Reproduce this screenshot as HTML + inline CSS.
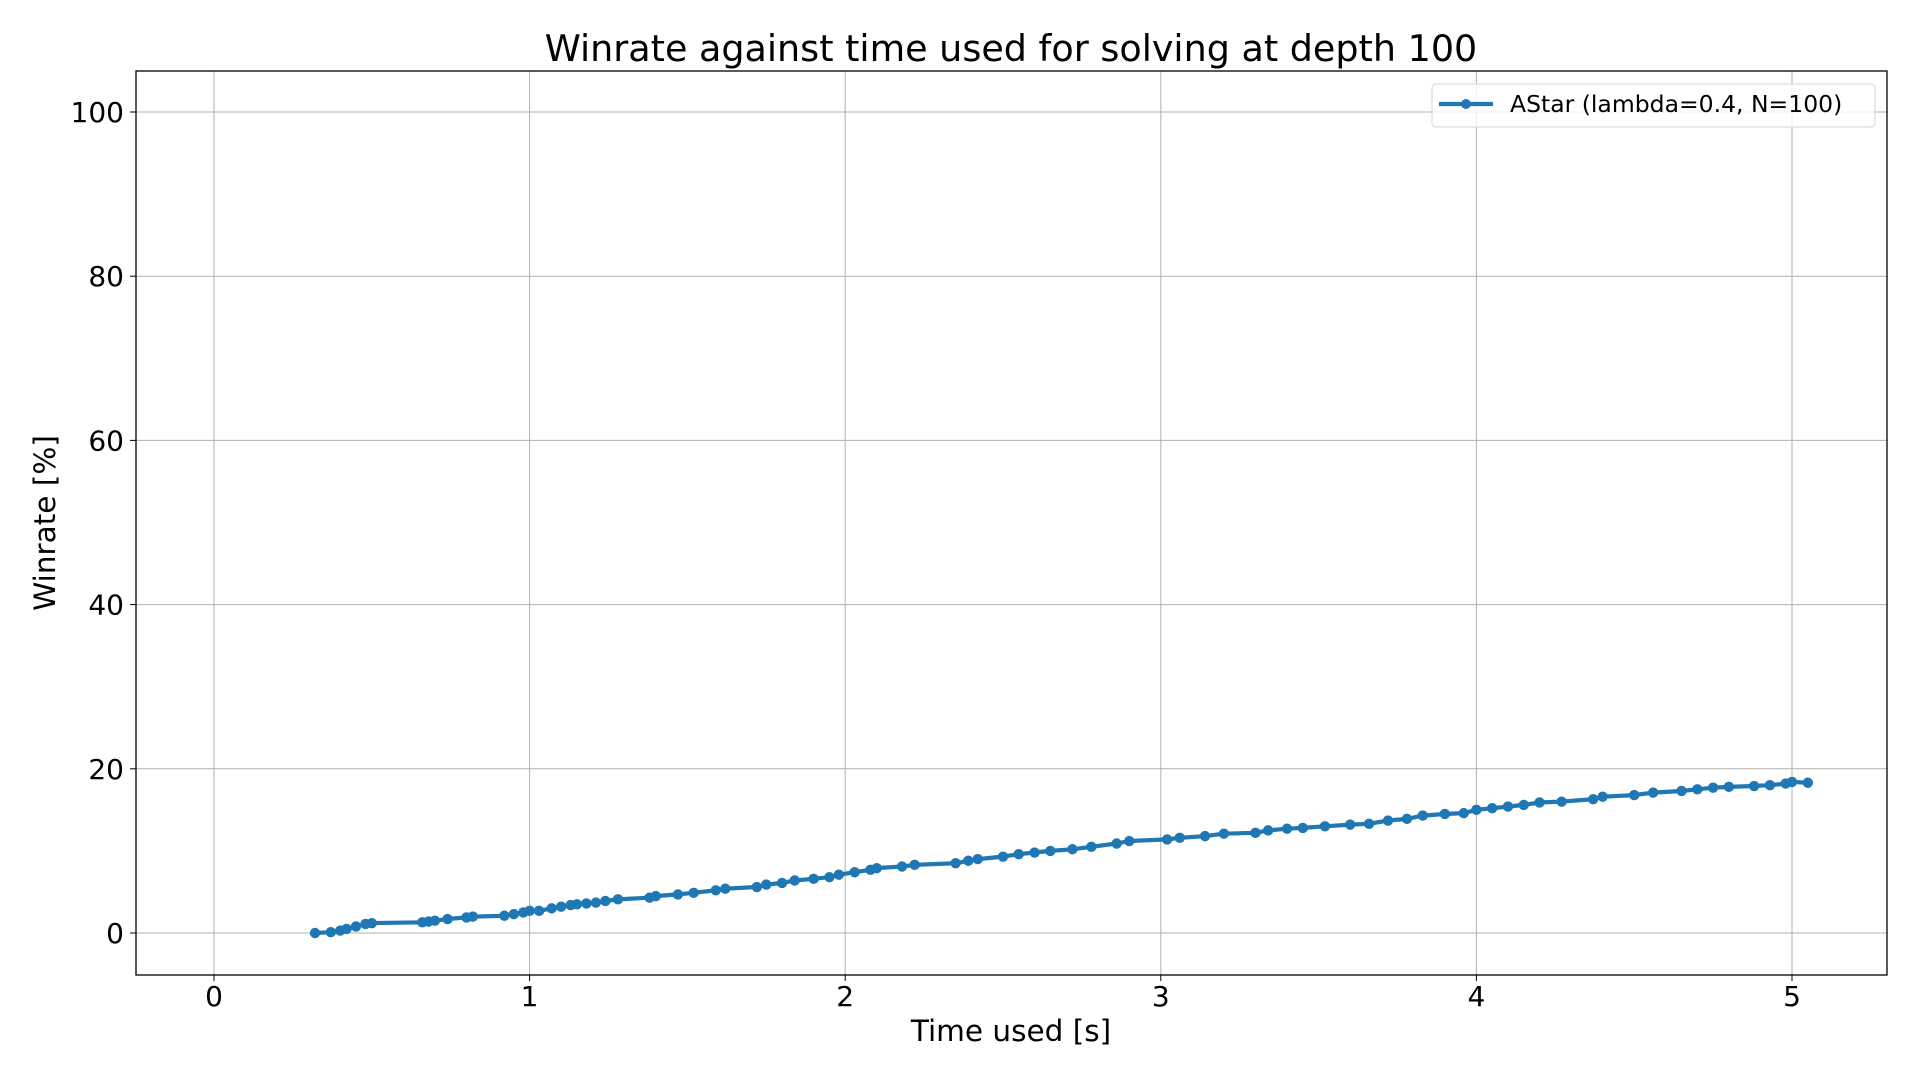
<!DOCTYPE html>
<html><head><meta charset="utf-8"><style>
html,body{margin:0;padding:0;background:#fff;}
svg{display:block;font-family:"DejaVu Sans","Liberation Sans",sans-serif;}
</style></head><body>
<svg id="chart" width="1920" height="1080" viewBox="0 0 1920 1080">
<rect x="0" y="0" width="1920" height="1080" fill="#fff"/>
<text x="1011" y="61" font-size="36.5" text-anchor="middle" fill="#000">Winrate against time used for solving at depth 100</text>
<g id="grid"></g>
<g id="ticks"></g>
<g id="series"></g>
<rect x="136" y="71" width="1751" height="904" fill="none" stroke="#000" stroke-width="1.3"/>
<text x="1011" y="1041" font-size="29.5" text-anchor="middle" fill="#000">Time used [s]</text>
<text x="0" y="0" font-size="29.5" text-anchor="middle" fill="#000" transform="translate(55,523) rotate(-90)">Winrate [%]</text>
<g>
<rect x="1432" y="84" width="443" height="43" rx="4" fill="#fff" fill-opacity="0.8" stroke="#ddd" stroke-width="1.2"/>
<line x1="1439" y1="104" x2="1493" y2="104" stroke="#1f77b4" stroke-width="4.2"/>
<circle cx="1466" cy="104" r="5" fill="#1f77b4"/>
<text x="1510" y="112" font-size="23.5" fill="#000">AStar (lambda=0.4, N=100)</text>
</g>
</svg>
<script>
const xTickLabels=["0","1","2","3","4","5"];
const xTickValues=[0,1,2,3,4,5];
const yTickLabels=["0","20","40","60","80","100"];
const yTickValues=[0,20,40,60,80,100];
const timeValues=[0.32,0.37,0.40,0.42,0.45,0.48,0.50,0.66,0.68,0.70,0.74,0.80,0.82,0.92,0.95,0.98,1.00,1.03,1.07,1.10,1.13,1.15,1.18,1.21,1.24,1.28,1.38,1.40,1.47,1.52,1.59,1.62,1.72,1.75,1.80,1.84,1.90,1.95,1.98,2.03,2.08,2.10,2.18,2.22,2.35,2.39,2.42,2.50,2.55,2.60,2.65,2.72,2.78,2.86,2.90,3.02,3.06,3.14,3.20,3.30,3.34,3.40,3.45,3.52,3.60,3.66,3.72,3.78,3.83,3.90,3.96,4.00,4.05,4.10,4.15,4.20,4.27,4.37,4.40,4.50,4.56,4.65,4.70,4.75,4.80,4.88,4.93,4.98,5.00,5.05];
const winrateValues=[0,0.1,0.3,0.5,0.8,1.1,1.2,1.3,1.4,1.5,1.7,1.9,2.0,2.1,2.3,2.5,2.7,2.7,3.0,3.2,3.4,3.5,3.6,3.7,3.9,4.1,4.3,4.5,4.7,4.9,5.2,5.4,5.6,5.9,6.1,6.4,6.6,6.8,7.1,7.4,7.7,7.9,8.1,8.3,8.5,8.8,9.0,9.3,9.6,9.8,10.0,10.2,10.5,10.9,11.2,11.4,11.6,11.8,12.1,12.2,12.5,12.7,12.8,13.0,13.2,13.3,13.7,13.9,14.3,14.5,14.6,15.0,15.2,15.4,15.6,15.9,16.0,16.3,16.6,16.8,17.1,17.3,17.5,17.7,17.8,17.9,18.0,18.2,18.4,18.3];

const NS="http://www.w3.org/2000/svg";
const L=136,R=1887,T=71,B=975;
function xs(v){return 214+v*(1792-214)/5;}
function ys(v){return 933+v*(112-933)/100;}
function mk(tag,attrs,parent){const e=document.createElementNS(NS,tag);for(const k in attrs)e.setAttribute(k,attrs[k]);parent.appendChild(e);return e;}
const grid=document.getElementById('grid'),ticks=document.getElementById('ticks'),series=document.getElementById('series');
xTickValues.forEach((v,i)=>{
  const x=xs(v);
  const g=mk('line',{x1:x,y1:T,x2:x,y2:B,stroke:'#b0b0b0','stroke-width':1},grid);
  
  
  const t=mk('line',{x1:x,y1:B,x2:x,y2:B+6,stroke:'#000','stroke-width':1},ticks);
  
  
  const lb=mk('text',{x:x,y:1006,'font-size':28,'text-anchor':'middle',fill:'#000'},ticks);
  lb.textContent=xTickLabels[i];
  
  
});
yTickValues.forEach((v,i)=>{
  const y=ys(v);
  const g=mk('line',{x1:L,y1:y,x2:R,y2:y,stroke:'#b0b0b0','stroke-width':1},grid);
  
  
  const t=mk('line',{x1:L-6,y1:y,x2:L,y2:y,stroke:'#000','stroke-width':1},ticks);
  
  
  const lb=mk('text',{x:124,y:y+10,'font-size':28,'text-anchor':'end',fill:'#000'},ticks);
  lb.textContent=yTickLabels[i];
  
  
});
const pts=timeValues.map((t,i)=>xs(t).toFixed(1)+','+ys(winrateValues[i]).toFixed(1)).join(' ');
const line=mk('polyline',{points:pts,fill:'none',stroke:'#1f77b4','stroke-width':4.2,'stroke-linejoin':'round'},series);


timeValues.forEach((t,i)=>{
  const c=mk('circle',{cx:xs(t),cy:ys(winrateValues[i]),r:5.2,fill:'#1f77b4'},series);
  
  
});
</script>
</body></html>
